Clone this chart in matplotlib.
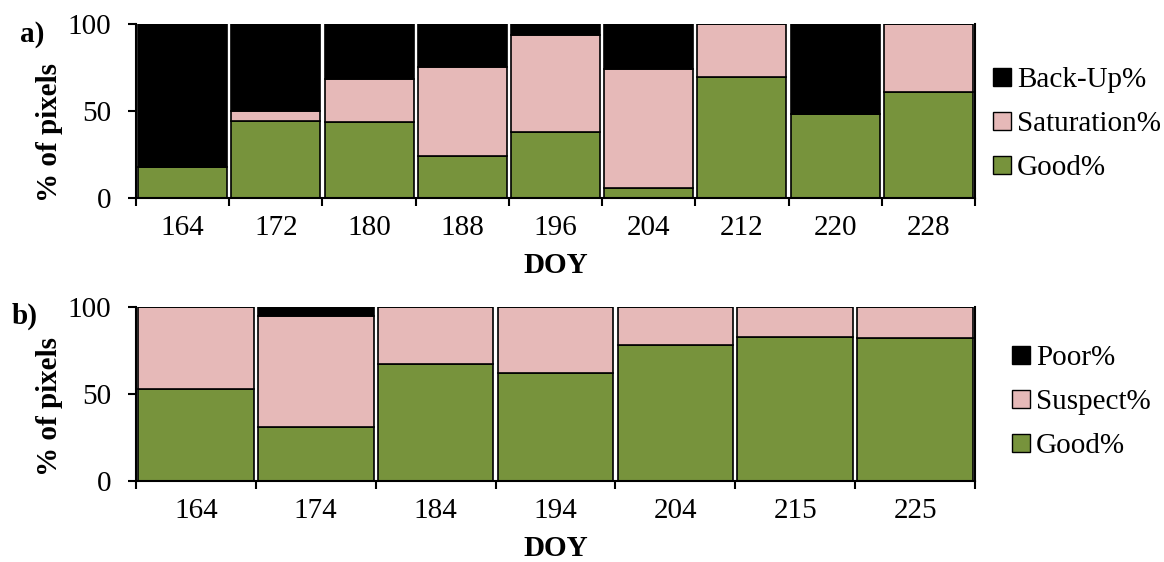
import matplotlib
matplotlib.use("Agg")
import matplotlib.pyplot as plt
import numpy as np
from matplotlib.patches import Patch

plt.rcParams['font.family'] = ['Liberation Serif', 'DejaVu Serif']

# panel a
doy_a = ["164", "172", "180", "188", "196", "204", "212", "220", "228"]
good_a = [17.6, 44.0, 43.4, 24.3, 38.2, 5.7, 69.4, 48.4, 61.0]
sat_a = [0.0, 5.8, 24.9, 50.8, 55.5, 68.3, 30.6, 0.0, 39.0]
backup_a = [82.4, 50.2, 31.7, 24.9, 6.3, 26.0, 0.0, 51.6, 0.0]

# panel b
doy_b = ["164", "174", "184", "194", "204", "215", "225"]
good_b = [52.9, 30.8, 67.5, 62.3, 78.1, 82.7, 81.9]
suspect_b = [47.1, 64.0, 32.5, 37.7, 21.9, 17.3, 18.1]
poor_b = [0.0, 5.2, 0.0, 0.0, 0.0, 0.0, 0.0]

GREEN = '#77933c'
PINK = '#e6b9b8'
BLACK = '#000000'
FS = 21

W, H = 1164, 562
fig = plt.figure(figsize=(W / 100, H / 100), dpi=100)
ax1 = fig.add_axes([136 / W, 1 - 198 / H, 839 / W, 174 / H])
ax2 = fig.add_axes([136 / W, 1 - 481 / H, 839 / W, 174 / H])


def draw(ax, labels, series, colors, names, width, letter, letter_xy,
         ylab_y, leg_xy):
    x = np.arange(len(labels))
    bottom = np.zeros(len(labels))
    for vals, c in zip(series, colors):
        ax.bar(x, vals, width=width, bottom=bottom, color=c,
               edgecolor='black', linewidth=1.2)
        bottom += np.array(vals)
    ax.set_xlim(-0.5, len(labels) - 0.5)
    ax.set_ylim(0, 100)
    ax.set_yticks([0, 50, 100])
    ax.set_xticks(x)
    ax.set_xticklabels(labels)
    ax.set_xticks(np.arange(len(labels) + 1) - 0.5, minor=True)
    ax.tick_params(axis='x', which='major', length=0, pad=12, labelsize=FS)
    ax.tick_params(axis='x', which='minor', length=5.5, width=1.5, direction='out')
    ax.tick_params(axis='y', length=6, width=1.5, direction='out', labelsize=FS, pad=12)
    ax.spines['top'].set_visible(False)
    for s in ['left', 'bottom', 'right']:
        ax.spines[s].set_linewidth(1.5)
    ax.set_xlabel('DOY', fontsize=FS, fontweight='bold', va='top')
    ax.xaxis.set_label_coords(0.5, -0.31)
    ax.set_ylabel('% of pixels', fontsize=FS, fontweight='bold')
    ax.yaxis.set_label_coords(-0.087, ylab_y)
    fig.text(letter_xy[0], letter_xy[1], letter, fontsize=FS,
             fontweight='bold', va='center', ha='left')
    handles = [Patch(facecolor=c, edgecolor='black', linewidth=1.0, label=n)
               for c, n in zip(colors[::-1], names[::-1])]
    fig.legend(handles=handles, loc='center left', bbox_to_anchor=leg_xy,
               frameon=False, fontsize=FS, handlelength=0.62, handleheight=0.58,
               handletextpad=0.2, labelspacing=0.62, borderpad=0,
               borderaxespad=0)


draw(ax1, doy_a, [good_a, sat_a, backup_a], [GREEN, PINK, BLACK],
     ['Good%', 'Saturation%', 'Back-Up%'], 0.955, 'a)',
     (20 / W, 1 - 35 / H), 0.379, (993 / W, 1 - 124 / H))
draw(ax2, doy_b, [good_b, suspect_b, poor_b], [GREEN, PINK, BLACK],
     ['Good%', 'Suspect%', 'Poor%'], 0.965, 'b)',
     (12 / W, 1 - 316 / H), 0.43, (1012 / W, 1 - 402 / H))

fig.savefig('out.png', dpi=100)
